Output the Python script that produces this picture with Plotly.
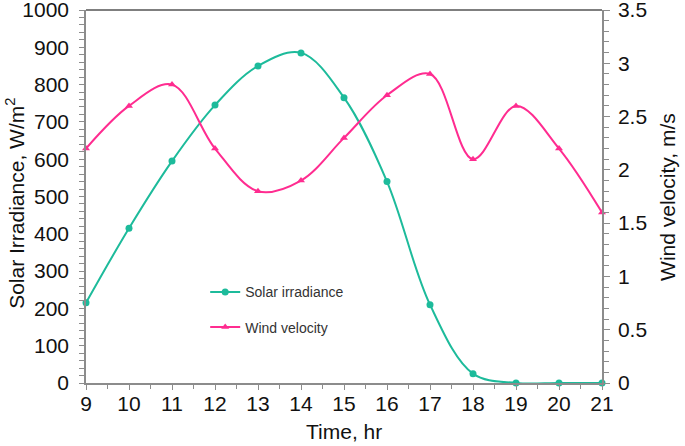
import plotly.graph_objects as go

hours = [9, 10, 11, 12, 13, 14, 15, 16, 17, 18, 19, 20, 21]
solar_irradiance = [215, 415, 595, 745, 850, 885, 765, 540, 210, 25, 0, 0, 0]
wind_velocity = [2.2, 2.6, 2.8, 2.2, 1.8, 1.9, 2.3, 2.7, 2.9, 2.1, 2.6, 2.2, 1.6]

GREEN = "#1DBB9B"
PINK = "#FF2C90"
AXIS = "#8C8C8C"
FONT = "Liberation Sans, Arial, sans-serif"

fig = go.Figure()
fig.add_trace(go.Scatter(
    x=hours, y=solar_irradiance, name="Solar irradiance",
    mode="lines+markers", line=dict(color=GREEN, width=2, shape="spline"),
    marker=dict(symbol="circle", size=7, color=GREEN),
    cliponaxis=False, legendgroup="a"))
fig.add_trace(go.Scatter(
    x=hours, y=wind_velocity, name="Wind velocity", yaxis="y2",
    mode="lines+markers", line=dict(color=PINK, width=2, shape="spline"),
    marker=dict(symbol="triangle-up", size=7, color=PINK),
    cliponaxis=False, legendgroup="b"))

tickfont = dict(family=FONT, size=21, color="#111111")
titlefont = dict(family=FONT, size=21, color="#111111")

fig.update_layout(
    width=685, height=446,
    margin=dict(l=86, r=83, t=10, b=63, autoexpand=False),
    paper_bgcolor="white", plot_bgcolor="white",
    font=dict(family=FONT),
    showlegend=True,
    legend=dict(x=0.231, y=0.286, xanchor="left", yanchor="top",
                bgcolor="rgba(0,0,0,0)", tracegroupgap=14,
                font=dict(family=FONT, size=14, color="#333333"),
                itemwidth=30),
    xaxis=dict(range=[9, 21], dtick=1, tick0=9, showline=True, linecolor=AXIS,
               linewidth=1.5, ticks="outside", ticklen=5, tickcolor=AXIS,
               showgrid=False, zeroline=False, tickfont=tickfont, automargin=False,
               ticklabeloverflow="allow", ticklabelstandoff=-4,
               minor=dict(dtick=0.5, ticks="outside", ticklen=4, tickcolor=AXIS, showgrid=False)),
    yaxis=dict(range=[0, 1000], dtick=100, showline=True, linecolor=AXIS,
               linewidth=1.5, ticks="outside", ticklen=5, tickcolor=AXIS,
               showgrid=False, zeroline=False, tickfont=tickfont, automargin=False,
               ticklabeloverflow="allow", ticklabelstandoff=6,
               minor=dict(dtick=20, ticks="outside", ticklen=5, tickcolor=AXIS, showgrid=False)),
    yaxis2=dict(range=[0, 3.5], dtick=0.5, overlaying="y", side="right",
                showline=True, linecolor=AXIS, linewidth=1.5, ticks="outside",
                ticklen=6, tickcolor=AXIS, showgrid=False, zeroline=False,
                tickfont=tickfont, automargin=False, ticklabeloverflow="allow",
                ticklabelstandoff=4,
                minor=dict(dtick=0.1, ticks="outside", ticklen=5, tickcolor=AXIS, showgrid=False)),
    shapes=[dict(type="line", xref="paper", yref="paper", x0=0, x1=1, y0=1, y1=1,
                 line=dict(color="#555555", width=1.5))],
    annotations=[
        dict(text="Time, hr", xref="paper", yref="paper", x=0.5, y=-0.131,
             xanchor="center", yanchor="middle", showarrow=False, font=titlefont),
        dict(text="Solar Irradiance, W/m<sup>2</sup>", xref="paper", yref="paper",
             x=-0.1376, y=0.483, xanchor="center", yanchor="middle", textangle=-90,
             showarrow=False, font=titlefont),
        dict(text="Wind velocity, m/s", xref="paper", yref="paper",
             x=1.128, y=0.499, xanchor="center", yanchor="middle", textangle=-90,
             showarrow=False, font=titlefont),
    ],
)

fig.write_html("out.html", config={"displayModeBar": False},
               post_script="document.body.style.margin='0';")
